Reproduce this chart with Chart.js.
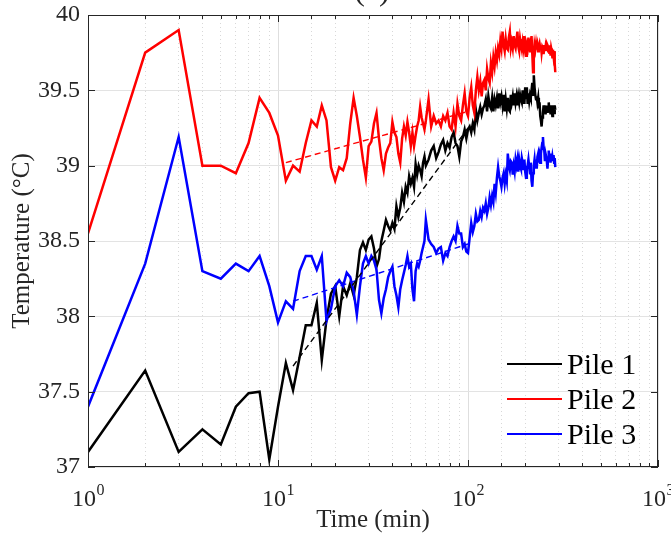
<!DOCTYPE html>
<html>
<head>
<meta charset="utf-8">
<title>Pile temperature vs time</title>
<script src="https://cdn.jsdelivr.net/npm/chart.js@4/dist/chart.umd.min.js"></script>
<style>
  html, body { margin: 0; padding: 0; background: #ffffff; }
  #wrap { width: 671px; height: 539px; }
</style>
</head>
<body>
<div id="wrap"><canvas id="chart" width="671" height="539"></canvas></div>
<script>
// Sampling times (min)
const times = [
  1, 2, 3, 4, 5, 6, 7, 8, 9, 10,
  11, 12, 13, 14, 15, 16, 17, 18, 19, 20,
  21, 22, 23, 24, 25, 26, 27, 28, 29, 30,
  31, 32, 33, 34, 35, 36, 37, 38, 39, 40,
  41, 42, 43, 44, 45, 46, 47, 48, 49, 50,
  51, 52, 53, 54, 55, 56, 57, 58, 59, 60,
  62, 64, 66, 68, 70, 72, 74, 76, 78, 80,
  82, 84, 86, 88, 90, 92, 94, 96, 98, 100,
  102, 104, 106, 108, 110, 112, 114, 116, 118, 120,
  122, 124, 126, 128, 130, 132, 134, 136, 138, 140,
  142, 144, 146, 148, 150, 152, 154, 156, 158, 160,
  162, 164, 166, 168, 170, 172, 174, 176, 178, 180,
  182, 184, 186, 188, 190, 192, 194, 196, 198, 200,
  202, 204, 206, 208, 210, 212, 214, 216, 218, 220,
  222, 224, 226, 228, 230, 232, 234, 236, 238, 240,
  242, 244, 246, 248, 250, 252, 254, 256, 258, 260,
  262, 264, 266, 268, 270, 272, 274, 276, 278, 280,
  282, 284, 286, 288
];

// Measured temperatures (°C)
const pile1 = [
  37.10, 37.64, 37.10, 37.25, 37.15, 37.40, 37.49, 37.50, 37.05, 37.40,
  37.69, 37.51, 37.73, 37.94, 37.94, 38.09, 37.71, 37.98, 38.15, 38.20,
  38.00, 38.20, 38.14, 38.22, 38.14, 38.26, 38.44, 38.49, 38.44, 38.51,
  38.53, 38.45, 38.33, 38.38, 38.50, 38.57, 38.64, 38.60, 38.57, 38.62,
  38.58, 38.73, 38.66, 38.72, 38.82, 38.76, 38.86, 38.82, 38.93, 38.88,
  38.92, 38.86, 39.01, 38.94, 39.00, 38.97, 38.93, 39.02, 39.06, 39.00,
  39.04, 39.10, 39.13, 39.05, 39.09, 39.14, 39.17, 39.10, 39.15, 39.12,
  39.19, 39.22, 39.15, 39.13, 39.06, 39.16, 39.19, 39.24, 39.18, 39.24,
  39.26, 39.22, 39.28, 39.24, 39.37, 39.30, 39.35, 39.39, 39.34, 39.38,
  39.40, 39.44, 39.36, 39.46, 39.40, 39.38, 39.45, 39.36, 39.44, 39.40,
  39.45, 39.38, 39.48, 39.42, 39.46, 39.40, 39.47, 39.36, 39.44, 39.38,
  39.45, 39.37, 39.36, 39.47, 39.42, 39.46, 39.40, 39.48, 39.42, 39.46,
  39.40, 39.46, 39.42, 39.47, 39.44, 39.42, 39.50, 39.45, 39.41, 39.52,
  39.45, 39.52, 39.41, 39.48, 39.43, 39.47, 39.45, 39.50, 39.55, 39.47,
  39.60, 39.52, 39.47, 39.44, 39.46, 39.42, 39.45, 39.38, 39.42, 39.33,
  39.30, 39.26, 39.32, 39.35, 39.40, 39.36, 39.40, 39.34, 39.39, 39.40,
  39.35, 39.39, 39.42, 39.36, 39.39, 39.34, 39.40, 39.37, 39.33, 39.36,
  39.40, 39.35, 39.40, 39.37
];
const pile2 = [
  38.55, 39.75, 39.90, 39.00, 39.00, 38.95, 39.15, 39.45, 39.35, 39.20,
  38.90, 39.00, 38.96, 39.15, 39.30, 39.26, 39.40, 39.30, 38.99, 38.90,
  38.99, 38.97, 39.05, 39.28, 39.45, 39.33, 39.19, 39.04, 38.92, 39.13,
  39.16, 39.28, 39.35, 39.18, 39.05, 38.97, 39.08, 39.12, 39.15, 39.29,
  39.22, 39.19, 39.08, 39.02, 39.18, 39.26, 39.20, 39.29, 39.22, 39.13,
  39.22, 39.13, 39.20, 39.26, 39.30, 39.39, 39.32, 39.28, 39.24, 39.30,
  39.44, 39.26, 39.33, 39.28, 39.30, 39.26, 39.33, 39.30, 39.35, 39.26,
  39.24, 39.35, 39.26, 39.41, 39.33, 39.30, 39.40, 39.48, 39.36, 39.33,
  39.45, 39.52, 39.40, 39.35, 39.50, 39.59, 39.50, 39.56, 39.46, 39.55,
  39.57, 39.50, 39.64, 39.58, 39.55, 39.68, 39.62, 39.72, 39.66, 39.75,
  39.70, 39.78, 39.74, 39.83, 39.78, 39.89, 39.80, 39.76, 39.84, 39.78,
  39.77, 39.85, 39.89, 39.78, 39.82, 39.78, 39.86, 39.80, 39.78, 39.84,
  39.89, 39.79, 39.76, 39.84, 39.80, 39.77, 39.82, 39.78, 39.86, 39.80,
  39.73, 39.80, 39.78, 39.85, 39.80, 39.76, 39.82, 39.86, 39.74, 39.62,
  39.72, 39.80, 39.77, 39.81, 39.77, 39.80, 39.76, 39.79, 39.81, 39.78,
  39.80, 39.75, 39.79, 39.78, 39.74, 39.80, 39.76, 39.79, 39.77, 39.81,
  39.80, 39.76, 39.79, 39.75, 39.80, 39.73, 39.78, 39.76, 39.72, 39.77,
  39.73, 39.76, 39.68, 39.62
];
const pile3 = [
  37.40, 38.35, 39.19, 38.30, 38.25, 38.35, 38.30, 38.40, 38.20, 37.96,
  38.10, 38.05, 38.30, 38.40, 38.40, 38.31, 38.40, 37.97, 38.05, 38.20,
  38.24, 38.20, 38.29, 38.26, 38.17, 38.01, 38.20, 38.35, 38.40, 38.35,
  38.40, 38.37, 38.31, 38.11, 38.02, 38.12, 38.18, 38.26, 38.30, 38.33,
  38.20, 38.14, 38.06, 38.18, 38.24, 38.29, 38.34, 38.40, 38.33, 38.35,
  38.18, 38.10, 38.30, 38.35, 38.33, 38.37, 38.42, 38.46, 38.50, 38.64,
  38.51, 38.48, 38.46, 38.42, 38.45, 38.46, 38.37, 38.42, 38.40, 38.46,
  38.50, 38.53, 38.50, 38.60, 38.55, 38.55, 38.46, 38.48, 38.43, 38.42,
  38.52, 38.62, 38.56, 38.60, 38.68, 38.63, 38.64, 38.70, 38.66, 38.72,
  38.70, 38.75, 38.68, 38.72, 38.79, 38.74, 38.80, 38.76, 38.88, 38.82,
  38.92, 38.99, 38.93, 38.90, 38.86, 38.92, 38.95, 38.88, 38.94, 38.90,
  39.08, 39.00, 38.97, 39.03, 39.02, 38.94, 39.00, 38.96, 39.04, 39.00,
  39.04, 38.96, 39.04, 39.00, 38.98, 39.05, 39.02, 38.97, 39.04, 38.96,
  38.92, 38.98, 39.00, 39.04, 38.99, 38.95, 39.02, 38.90, 38.86, 38.95,
  39.00, 39.04, 38.98, 39.04, 38.98, 39.06, 39.08, 39.02, 39.06, 39.02,
  39.08, 39.12, 39.15, 39.19, 39.12, 39.10, 39.03, 39.08, 39.06, 39.03,
  38.98, 39.05, 39.10, 39.05, 39.08, 39.02, 39.08, 39.03, 39.06, 39.03,
  39.07, 39.02, 39.05, 38.99
];

// Log-linear trend lines (end points)
const trend1Times = [12, 100];
const trend1Values = [37.67, 39.25];
const trend2Times = [11, 100];
const trend2Values = [39.02, 39.36];
const trend3Times = [12, 100];
const trend3Values = [38.10, 38.48];

const seriesLabels = ['Pile 1', 'Pile 2', 'Pile 3'];
const seriesColors = ['#000000', '#ff0000', '#0000ff'];
const yTickValues = [37, 37.5, 38, 38.5, 39, 39.5, 40];

const SERIF = '"Liberation Serif", "Times New Roman", serif';
const INK = '#262626';

function points(ts, vs) {
  return ts.map((t, i) => ({ x: t, y: vs[i] }));
}

const datasets = [
  { label: seriesLabels[0], data: points(times, pile1), borderColor: seriesColors[0], order: 3 },
  { label: seriesLabels[1], data: points(times, pile2), borderColor: seriesColors[1], order: 2 },
  { label: seriesLabels[2], data: points(times, pile3), borderColor: seriesColors[2], order: 1 },
  { label: 'fit1', data: points(trend1Times, trend1Values), borderColor: seriesColors[0], borderDash: [6, 4], borderWidth: 1.4, order: 0 },
  { label: 'fit2', data: points(trend2Times, trend2Values), borderColor: seriesColors[1], borderDash: [6, 4], borderWidth: 1.4, order: 0 },
  { label: 'fit3', data: points(trend3Times, trend3Values), borderColor: seriesColors[2], borderDash: [6, 4], borderWidth: 1.4, order: 0 }
].map(d => Object.assign({ borderWidth: 2.5, pointRadius: 0, tension: 0, fill: false }, d));

// Box, inward ticks, exponent tick labels, axis titles and legend
const decorPlugin = {
  id: 'decor',
  afterDraw(chart) {
    const { ctx, chartArea: a, scales: { x, y } } = chart;
    ctx.save();

    // frame
    ctx.strokeStyle = INK;
    ctx.lineWidth = 1;
    ctx.strokeRect(a.left + 0.5, a.top + 0.5, a.right - a.left - 1, a.bottom - a.top - 1);

    // x ticks (bottom and top, pointing inward)
    ctx.beginPath();
    x.ticks.forEach(t => {
      const px = Math.round(x.getPixelForValue(t.value)) + 0.5;
      const len = t.major ? 7 : 4;
      ctx.moveTo(px, a.bottom); ctx.lineTo(px, a.bottom - len);
      ctx.moveTo(px, a.top); ctx.lineTo(px, a.top + len);
    });
    // y ticks (left and right, pointing inward)
    yTickValues.forEach(v => {
      const py = Math.round(y.getPixelForValue(v)) + 0.5;
      ctx.moveTo(a.left, py); ctx.lineTo(a.left + 7, py);
      ctx.moveTo(a.right, py); ctx.lineTo(a.right - 7, py);
    });
    ctx.stroke();

    // x tick labels: 10^n
    ctx.fillStyle = INK;
    ctx.textBaseline = 'alphabetic';
    x.ticks.filter(t => t.major).forEach(t => {
      const px = x.getPixelForValue(t.value);
      const exp = String(Math.round(Math.log10(t.value)));
      ctx.font = '24px ' + SERIF;
      const wb = ctx.measureText('10').width;
      ctx.font = '16px ' + SERIF;
      const we = ctx.measureText(exp).width;
      const x0 = px - (wb + we) / 2;
      ctx.font = '24px ' + SERIF;
      ctx.textAlign = 'left';
      ctx.fillText('10', x0, a.bottom + 39);
      ctx.font = '16px ' + SERIF;
      ctx.fillText(exp, x0 + wb + 0.5, a.bottom + 28);
    });

    // axis titles
    ctx.font = '25px ' + SERIF;
    ctx.textAlign = 'center';
    ctx.textBaseline = 'middle';
    ctx.fillText('Time (min)', (a.left + a.right) / 2, 520);
    ctx.save();
    ctx.translate(22, (a.top + a.bottom) / 2);
    ctx.rotate(-Math.PI / 2);
    ctx.fillText('Temperature (\u00B0C)', 0, 0);
    ctx.restore();

    // panel label above the axes
    ctx.font = '32px ' + SERIF;
    ctx.textBaseline = 'alphabetic';
    ctx.fillText('(a)', 372, 0);

    // legend
    ctx.textAlign = 'left';
    ctx.textBaseline = 'middle';
    ctx.font = '30px ' + SERIF;
    const lx0 = 507, lx1 = 562, ly0 = 364, dy = 35;
    for (let i = 0; i < 3; i++) {
      const ds = chart.data.datasets[i];
      const ly = ly0 + i * dy;
      ctx.strokeStyle = ds.borderColor;
      ctx.lineWidth = 2;
      ctx.beginPath();
      ctx.moveTo(lx0, ly); ctx.lineTo(lx1, ly);
      ctx.stroke();
      ctx.fillStyle = '#000000';
      ctx.fillText(ds.label, 567, ly + 2);
    }
    ctx.restore();
  }
};

new Chart(document.getElementById('chart'), {
  type: 'line',
  data: { datasets },
  options: {
    responsive: false,
    animation: false,
    devicePixelRatio: 1,
    layout: { padding: { left: 0, right: 13, top: 15, bottom: 0 } },
    plugins: { legend: { display: false }, tooltip: { enabled: false } },
    scales: {
      x: {
        type: 'logarithmic',
        min: 1,
        max: 1000,
        afterFit: s => { s.height = 72; s.paddingLeft = 0; s.paddingRight = 0; },
        ticks: { display: false },
        border: {
          display: false,
          dash: c => (c.tick && !c.tick.major) ? [1, 3] : []
        },
        grid: {
          drawTicks: false,
          lineWidth: 1,
          color: c => (c.tick && c.tick.major) ? '#dedede' : '#d8d8d8'
        }
      },
      y: {
        type: 'linear',
        min: 37,
        max: 40,
        afterFit: s => { s.width = 88; s.paddingTop = 0; s.paddingBottom = 0; },
        afterBuildTicks: s => { s.ticks = yTickValues.map(v => ({ value: v })); },
        ticks: {
          padding: 8,
          color: INK,
          font: { family: SERIF, size: 24 },
          callback: v => String(v)
        },
        border: { display: false },
        grid: { drawTicks: false, lineWidth: 1, color: '#e3e3e3' }
      }
    }
  },
  plugins: [decorPlugin]
});
</script>
</body>
</html>
